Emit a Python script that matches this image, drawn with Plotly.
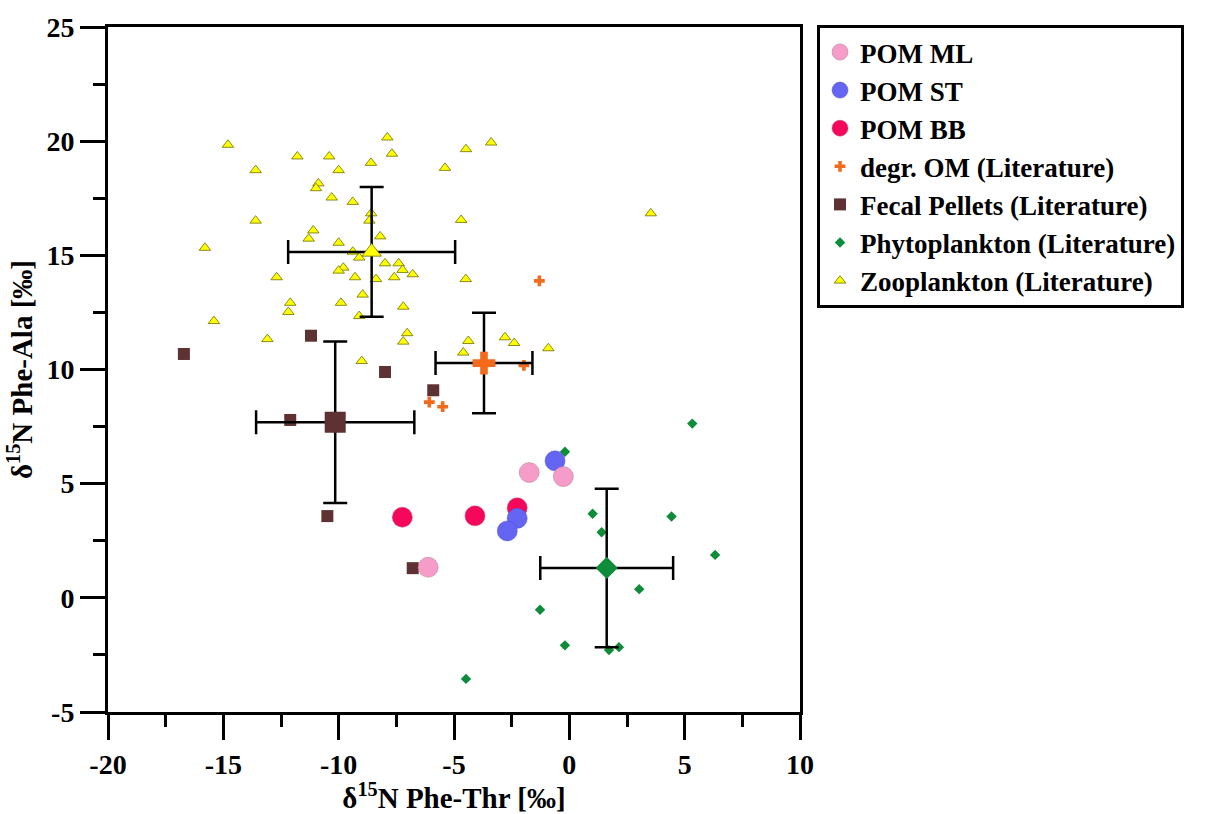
import plotly.graph_objects as go

# ---- sample data: delta15N Phe-Thr (x) vs delta15N Phe-Ala (y) ----
pom_ml_x = [-1.74, -0.26, -6.12]
pom_ml_y = [5.49, 5.31, 1.34]
pom_st_x = [-0.62, -2.26, -2.69]
pom_st_y = [6.00, 3.48, 2.93]
pom_bb_x = [-7.24, -4.09, -2.26]
pom_bb_y = [3.53, 3.59, 3.94]

# ---- literature data ----
degr_x = [-1.30, -1.97, -6.07, -5.49]
degr_y = [13.88, 10.18, 8.57, 8.37]

fecal_x = [-16.71, -11.20, -7.99, -5.90, -12.10, -10.49, -6.79]
fecal_y = [10.68, 11.48, 9.89, 9.09, 7.79, 3.58, 1.30]

phyto_x = [5.33, -0.19, 1.01, 1.40, 4.43, 6.32, 3.03, -1.27, -0.19, 1.72, 2.15, -4.48]
phyto_y = [7.63, 6.40, 3.68, 2.87, 3.56, 1.88, 0.38, -0.52, -2.08, -2.29, -2.16, -3.55]

zoo_x = [-14.80, -11.79, -10.41, -13.60, -10.00, -10.88, -10.98, -10.30, -13.60, -11.10,
         -11.30, -10.00, -15.80, -9.80, -10.00, -12.69, -12.10, -12.18, -9.90, -15.41,
         -13.09, -7.89, -7.69, -8.60, -4.48, -3.39, -5.39, -9.39, -8.59, -8.67,
         -4.69, -8.20, -9.39, -9.11, -7.99, -7.40, -7.23, -6.79, -9.29, -8.38,
         -7.59, -4.49, -8.96, -7.20, -9.11, -7.03, -7.20, -4.38, -2.79, -2.39,
         -0.91, -4.60, -9.00, 3.53]
zoo_y = [19.84, 19.33, 19.33, 18.73, 18.73, 18.15, 17.94, 17.53, 16.52, 16.09,
         15.73, 15.55, 15.33, 14.46, 14.33, 14.04, 12.92, 12.52, 12.92, 12.12,
         11.33, 20.16, 19.45, 19.05, 19.65, 19.94, 18.83, 17.34, 16.84, 16.52,
         16.55, 15.83, 15.16, 14.90, 14.65, 14.65, 14.36, 14.17, 14.04, 13.96,
         14.04, 13.96, 13.28, 12.75, 12.34, 11.59, 11.22, 11.25, 11.41, 11.16,
         10.93, 10.74, 10.37, 16.84]

# ---- group means and standard deviations ----
group_names = ["degr. OM", "Fecal Pellets", "Phytoplankton", "Zooplankton"]
mean_x = [-3.70, -10.15, 1.62, -8.57]
mean_y = [10.28, 7.69, 1.31, 15.15]
sd_x = [2.10, 3.43, 2.88, 3.62]
sd_y = [2.20, 3.54, 3.47, 2.84]

# ---- axis ticks (plain hyphen as minus sign) ----
x_ticks = [-20, -15, -10, -5, 0, 5, 10]
x_ticktext = ["-20", "-15", "-10", "-5", "0", "5", "10"]
y_ticks = [-5, 0, 5, 10, 15, 20, 25]
y_ticktext = ["-5", "0", "5", "10", "15", "20", "25"]

FONT = "Liberation Serif, Times New Roman, serif"

fig = go.Figure()


def add_group(name, xs, ys, color, symbol, size, line=None, rank=0, show=True):
    fig.add_trace(go.Scatter(
        x=xs, y=ys, mode="markers", name=name, showlegend=show, legendrank=rank,
        marker=dict(color=color, symbol=symbol, size=size,
                    line=line or dict(width=0)),
    ))


def add_mean(i, color, symbol, size, line=None):
    fig.add_trace(go.Scatter(
        x=[mean_x[i]], y=[mean_y[i]], mode="markers", showlegend=False,
        name=group_names[i] + " mean",
        marker=dict(color=color, symbol=symbol, size=size, line=line or dict(width=0)),
        error_x=dict(type="data", array=[sd_x[i]], color="black", thickness=2.5, width=12),
        error_y=dict(type="data", array=[sd_y[i]], color="black", thickness=2.5, width=12),
    ))


YEL_LINE = dict(color="#6e6e00", width=0.8)

# literature groups (drawn first, beneath the POM samples)
add_group("Zooplankton (Literature)", zoo_x, zoo_y, "#FFFF00", "triangle-up", 10,
          line=YEL_LINE, rank=7)
add_group("Phytoplankton (Literature)", phyto_x, phyto_y, "#0E8C3A", "diamond", 8, rank=6)
add_group("Fecal Pellets (Literature)", fecal_x, fecal_y, "#5E3232", "square", 12, rank=5)
add_group("degr. OM (Literature)", degr_x, degr_y, "#F26A1B", "cross", 9, rank=4)

add_mean(3, "#FFFF00", "triangle-up", 17, line=YEL_LINE)
add_mean(2, "#0E8C3A", "diamond", 17)
add_mean(1, "#5E3232", "square", 21)
add_mean(0, "#F26A1B", "cross", 19)

# POM samples
add_group("POM BB", pom_bb_x, pom_bb_y, "#F5085C", "circle", 20,
          line=dict(color="#c0406a", width=0.5), rank=3)
add_group("POM ST", pom_st_x, pom_st_y, "#6565F4", "circle", 20,
          line=dict(color="#5050c0", width=0.5), rank=2)
add_group("POM ML", pom_ml_x, pom_ml_y, "#F59DC8", "circle", 20,
          line=dict(color="#b07890", width=0.5), rank=1)

axis_common = dict(
    showgrid=False, zeroline=False,
    showline=True, linecolor="black", linewidth=3, mirror=True,
    ticks="outside", ticklen=25, tickwidth=3, tickcolor="black",
    tickfont=dict(family=FONT, size=28, color="black", weight="bold"),
    minor=dict(ticks="outside", ticklen=12, tickwidth=3, tickcolor="black", dtick=2.5),
    tickmode="array",
)

fig.update_xaxes(
    range=[-20, 10], tickvals=x_ticks, ticktext=x_ticktext, **axis_common,
    title=dict(text="δ<sup>15</sup>N Phe-Thr [‰]", standoff=2,
               font=dict(family=FONT, size=29, color="black", weight="bold")),
)
fig.update_yaxes(
    range=[-5, 25], tickvals=y_ticks, ticktext=y_ticktext, **axis_common,
    title=dict(text="δ<sup>15</sup>N Phe-Ala [‰]", standoff=6,
               font=dict(family=FONT, size=29, color="black", weight="bold")),
)

fig.update_layout(
    width=1205, height=814,
    margin=dict(l=108, r=405, t=21, b=100),
    paper_bgcolor="white", plot_bgcolor="white",
    legend=dict(
        x=1.0246, xanchor="left", y=1.003, yanchor="top",
        bordercolor="black", borderwidth=3, bgcolor="white",
        font=dict(family=FONT, size=27, color="black", weight="bold"),
        itemsizing="trace", traceorder="normal",
    ),
)

fig.write_html("out.html")
